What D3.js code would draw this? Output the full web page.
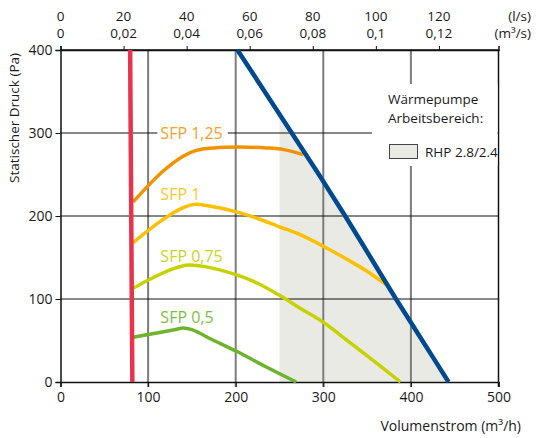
<!DOCTYPE html>
<html lang="de">
<head>
  <meta charset="UTF-8">
  <title>Kennlinie</title>
  <script src="https://d3js.org/d3.v7.min.js"></script>
  <style>
    body { margin: 0; background: #fff; }
    svg text { font-family: "Open Sans", sans-serif; fill: #1a1a1a; }
  </style>
</head>
<body>
  <div class="canvas"></div>
  <script>
    // Achsen
    const flowTicks = [0, 100, 200, 300, 400, 500];
    const pressureTicks = [0, 100, 200, 300, 400];
    const lsTicks = [0, 20, 40, 60, 80, 100, 120];
    const m3sLabels = ['0', '0,02', '0,04', '0,06', '0,08', '0,1', '0,12'];

    // Kennlinien [m3/h, Pa]
    const sfpNames = ['SFP 1,25', 'SFP 1', 'SFP 0,75', 'SFP 0,5'];
    const sfp125 = [[83, 217], [116, 253], [140, 272], [155, 279], [175, 282], [205, 283], [235, 282], [255, 280], [277, 274]];
    const sfp100 = [[83, 168], [116, 195], [140, 210], [153, 214], [170, 212], [201, 205], [225, 197], [250, 187], [275, 177], [301, 163], [330, 146], [352, 132], [372, 117]];
    const sfp075 = [[83, 113], [110, 128], [130, 137], [146, 141], [165, 139], [201, 129], [225, 119], [249, 105], [275, 88], [300, 72], [320, 56], [352, 30], [388, 0]];
    const sfp050 = [[83, 54], [110, 59], [130, 63], [140, 65], [150, 63], [175, 50], [201, 37], [235, 18], [269, 0]];
    const maxLine = [[202, 400], [233, 350], [264, 300], [295, 250], [325, 200], [354, 150], [383, 100], [413, 50], [443, 0]];
    const minLine = [[79.5, 400], [82, 0]];
    const rhpStart = [[250, 0], [250, 323]];
    const sfpLabelPos = [[114, 300], [114, 219], [114, 145], [114, 71]];

    const width = 536;
    const height = 438;
    const [mt, mb, ml, mr] = [50, 56, 60.5, 37.5];

    const svg = d3.select('.canvas')
      .append('svg')
      .attr('width', width)
      .attr('height', height);

    const x = d3.scaleLinear().domain([0, 500]).range([ml, width - mr]);
    const y = d3.scaleLinear().domain([0, 400]).range([height - mb, mt]);
    const xls = d3.scaleLinear().domain([0, 500 / 3.6]).range([ml, width - mr]);

    const line = d3.line()
      .x(d => x(d[0]))
      .y(d => y(d[1]))
      .curve(d3.curveCatmullRom);

    // Arbeitsbereich
    const rhp = rhpStart.concat(maxLine.filter(d => d[0] > 250));
    svg.append('path')
      .attr('d', d3.line().x(d => x(d[0])).y(d => y(d[1]))(rhp) + 'Z')
      .style('fill', '#e9eae4');

    // Gitter
    svg.selectAll('.vgrid')
      .data(flowTicks.filter(d => d > 0 && d < 500))
      .enter().append('line')
      .attr('x1', d => x(d)).attr('x2', d => x(d))
      .attr('y1', y(400)).attr('y2', y(0) + 5)
      .style('stroke', '#7d7d7d')
      .style('stroke-width', 2);

    svg.selectAll('.hgrid')
      .data(pressureTicks.filter(d => d > 0 && d < 400))
      .enter().append('line')
      .attr('x1', x(0)).attr('x2', x(500))
      .attr('y1', d => y(d)).attr('y2', d => y(d))
      .style('stroke', '#111')
      .style('stroke-width', 1);

    // Rahmen
    svg.append('line')
      .attr('x1', x(0)).attr('x2', x(500)).attr('y1', y(400)).attr('y2', y(400))
      .style('stroke', '#111').style('stroke-width', 1.5);
    svg.append('line')
      .attr('x1', x(500)).attr('x2', x(500)).attr('y1', y(400)).attr('y2', y(0) + 5)
      .style('stroke', '#111').style('stroke-width', 1.5);

    // Legende
    svg.append('rect')
      .attr('x', 372).attr('y', 84).attr('width', x(500) - 373).attr('height', 82)
      .style('fill', '#fff');
    svg.append('text').attr('x', 388).attr('y', 104).style('font-size', '13.5px').text('Wärmepumpe');
    svg.append('text').attr('x', 388).attr('y', 123).style('font-size', '13.5px').text('Arbeitsbereich:');
    svg.append('rect')
      .attr('x', 389.5).attr('y', 144.5).attr('width', 28).attr('height', 14)
      .style('fill', '#e9eae4').style('stroke', '#444').style('stroke-width', 1);
    svg.append('text').attr('x', 425).attr('y', 157).style('font-size', '13.5px').text('RHP 2.8/2.4');

    // Achsen
    const xAxis = svg.append('g')
      .attr('transform', `translate(0, ${y(0)})`)
      .call(d3.axisBottom(x).tickValues(flowTicks).tickSize(5).tickPadding(5));
    const yAxis = svg.append('g')
      .attr('transform', `translate(${x(0)}, 0)`)
      .call(d3.axisLeft(y).tickValues(pressureTicks).tickSize(5).tickPadding(3));
    const topAxis = svg.append('g')
      .attr('transform', `translate(0, ${y(400)})`)
      .call(d3.axisTop(xls).tickValues(lsTicks).tickSize(4).tickFormat(''));
    [xAxis, yAxis, topAxis].forEach(g => {
      g.select('.domain').style('stroke', '#111').style('stroke-width', 1.5);
      g.selectAll('.tick line').style('stroke', '#111');
      g.selectAll('.tick text').style('font-size', '14px').style('fill', '#1a1a1a').style('font-family', '"Open Sans", sans-serif');
    });

    svg.selectAll('.lsLabel')
      .data(lsTicks)
      .enter().append('text')
      .attr('x', d => xls(d)).attr('y', 21)
      .attr('text-anchor', 'middle')
      .style('font-size', '13.5px')
      .text(d => d);
    svg.selectAll('.m3sLabel')
      .data(lsTicks)
      .enter().append('text')
      .attr('x', d => xls(d)).attr('y', 38)
      .attr('text-anchor', 'middle')
      .style('font-size', '13.5px')
      .text((d, i) => m3sLabels[i]);
    svg.append('text').attr('x', 531).attr('y', 21).attr('text-anchor', 'end').style('font-size', '13.5px').text('(l/s)');
    svg.append('text').attr('x', 531).attr('y', 38).attr('text-anchor', 'end').style('font-size', '13.5px').text('(m³/s)');

    svg.append('text')
      .attr('transform', `translate(19, 118) rotate(-90)`)
      .attr('text-anchor', 'middle')
      .style('font-size', '13.5px')
      .text('Statischer Druck (Pa)');
    svg.append('text')
      .attr('x', 521).attr('y', 431)
      .attr('text-anchor', 'end')
      .style('font-size', '14px')
      .text('Volumenstrom (m³/h)');

    // SFP Beschriftung
    const sfpColors = ['#f39200', '#fcc000', '#c5d200', '#6cb42c'];
    const labelColors = ['#f5a02a', '#fcc72a', '#c9d425', '#7ebd43'];
    sfpNames.forEach((name, i) => {
      const t = svg.append('text')
        .attr('x', x(sfpLabelPos[i][0]))
        .attr('y', y(sfpLabelPos[i][1]))
        .attr('dy', i === 0 ? '0.35em' : 0)
        .style('font-size', '16px')
        .style('fill', labelColors[i])
        .text(name);
      if (i === 0) {
        const bb = t.node().getBBox();
        svg.insert('rect', 'text')
          .attr('x', bb.x - 3).attr('y', y(300) - 2)
          .attr('width', bb.width + 8).attr('height', 4)
          .style('fill', '#fff');
      }
    });

    // Kurven
    [sfp125, sfp100, sfp075, sfp050].forEach((d, i) => {
      svg.append('path')
        .attr('d', line(d))
        .style('fill', 'none')
        .style('stroke', sfpColors[i])
        .style('stroke-width', 3.5);
    });

    svg.append('path')
      .attr('d', line(maxLine))
      .style('fill', 'none')
      .style('stroke', '#00498f')
      .style('stroke-width', 4.5);

    svg.append('path')
      .attr('d', line(minLine))
      .style('fill', 'none')
      .style('stroke', '#e8334f')
      .style('stroke-width', 4.5);
  </script>
</body>
</html>
